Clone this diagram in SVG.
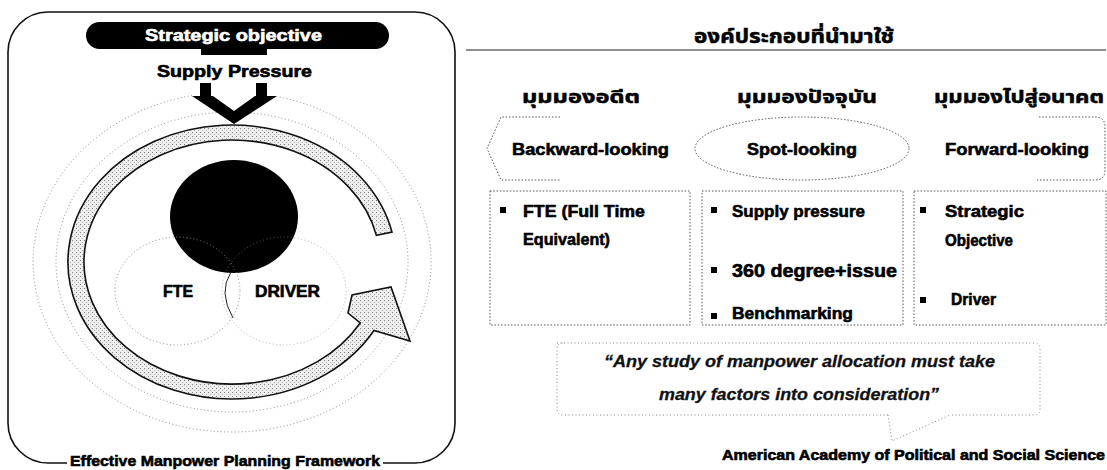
<svg xmlns="http://www.w3.org/2000/svg" width="1107" height="470" viewBox="0 0 1107 470">
<defs>
<pattern id="stip" width="4" height="4" patternUnits="userSpaceOnUse">
<rect width="4" height="4" fill="#eeeeee"/>
<rect x="0" y="0" width="1" height="1" fill="#7a7a7a"/>
<rect x="2" y="2" width="1" height="1" fill="#b0b0b0"/>
</pattern>
<style>
.t{font-family:"Liberation Sans",Arial,sans-serif;font-weight:bold;fill:#000;stroke:#000;stroke-width:0.6;stroke-linejoin:round}
.w{fill:#fff;stroke:#fff}
.th{font-family:"Noto Sans Thai","Loma","Garuda","DejaVu Sans","Noto Sans",sans-serif;font-weight:bold;fill:#000;stroke:#000;stroke-width:0.5}
.dot{fill:none;stroke:#555;stroke-width:1;stroke-dasharray:1.5 1.8}
.faint{fill:none;stroke:#888;stroke-width:1;stroke-dasharray:1 2.5}
.frame{fill:none;stroke:#111;stroke-width:1.6}
.q{font-family:"Liberation Sans",Arial,sans-serif;font-weight:bold;font-style:italic;fill:#111;stroke:#111;stroke-width:0.3}
</style>
</defs>
<rect width="1107" height="470" fill="#fff"/>

<g id="framework">
<path class="frame" d="M67,463 H48 A40,40 0 0 1 8,423 V52 A40,40 0 0 1 48,12 H415 A40,40 0 0 1 455,52 V423 A40,40 0 0 1 415,463 H383"/>
<text class="t" x="225" y="466" font-size="15" text-anchor="middle" textLength="310" lengthAdjust="spacingAndGlyphs">Effective Manpower Planning Framework</text>
</g>

<g id="rings">
<path class="faint" d="M192,95.5 A199,170 0 1 0 277,96.4"/>
<ellipse class="faint" cx="232" cy="262" rx="176" ry="150"/>
</g>

<g id="strategic-objective">
<rect x="86" y="22" width="303" height="27" rx="13.5" fill="#000"/>
<rect x="201" y="47" width="66" height="8" fill="#000"/>
<text class="t w" x="233.5" y="41" font-size="16" text-anchor="middle" textLength="177" lengthAdjust="spacingAndGlyphs">Strategic objective</text>
</g>

<g id="supply-pressure">
<text class="t" x="234.5" y="77" font-size="16" text-anchor="middle" textLength="155" lengthAdjust="spacingAndGlyphs">Supply Pressure</text>
<rect x="200" y="83" width="11" height="13" fill="#000"/>
<rect x="256" y="83" width="11" height="13" fill="#000"/>
<polygon points="192,96 213,96 234,111 255,96 277,96 234,124" fill="#000"/>
</g>

<g id="cycle-band">
<path d="M392,232.1 A164,137 0 1 0 374,330.5 L410,341 L391,287 L352,295 L348,313 L360.2,323 A148,122 0 1 1 376.4,235.4 Z" fill="url(#stip)" stroke="#111" stroke-width="1.6" stroke-linejoin="miter"/>
</g>

<g id="core">
<ellipse cx="234" cy="216.5" rx="64" ry="56.5" fill="#000"/>
</g>

<g id="fte">
<ellipse class="faint" cx="177.5" cy="291" rx="62.5" ry="54"/>
<text class="t" x="178" y="297" font-size="16" text-anchor="middle" textLength="30" lengthAdjust="spacingAndGlyphs">FTE</text>
</g>

<g id="driver">
<ellipse class="faint" cx="284" cy="291" rx="62" ry="54" opacity="0.6"/>
<path d="M231,272 Q218,292 233,318" fill="none" stroke="#222" stroke-width="1"/>
<text class="t" x="287.5" y="297" font-size="16" text-anchor="middle" textLength="65" lengthAdjust="spacingAndGlyphs">DRIVER</text>
</g>

<g id="components-title">
<text class="th" x="794" y="43" font-size="19" text-anchor="middle" textLength="200" lengthAdjust="spacingAndGlyphs">องค์ประกอบที่นำมาใช้</text>
<line x1="466" y1="50" x2="1106" y2="50" stroke="#222" stroke-width="1.2"/>
</g>

<g id="col-past">
<text class="th" x="581" y="103" font-size="18" text-anchor="middle" textLength="118" lengthAdjust="spacingAndGlyphs">มุมมองอดีต</text>
<path class="dot" d="M560,117 H501 L487,148.5 L501,180 H560"/>
<text class="t" x="590.5" y="155" font-size="17" text-anchor="middle" textLength="157" lengthAdjust="spacingAndGlyphs">Backward-looking</text>
<rect class="dot" x="490" y="191" width="200" height="134"/>
<rect x="500" y="207" width="6" height="6" fill="#000"/>
<text class="t" x="523" y="217" font-size="17" textLength="122" lengthAdjust="spacingAndGlyphs">FTE (Full Time</text>
<text class="t" x="523" y="245" font-size="17" textLength="87" lengthAdjust="spacingAndGlyphs">Equivalent)</text>
</g>

<g id="col-present">
<text class="th" x="807" y="103" font-size="18" text-anchor="middle" textLength="140" lengthAdjust="spacingAndGlyphs">มุมมองปัจจุบัน</text>
<ellipse class="dot" cx="802" cy="148.5" rx="107" ry="31.5"/>
<text class="t" x="802" y="155" font-size="17" text-anchor="middle" textLength="110" lengthAdjust="spacingAndGlyphs">Spot-looking</text>
<rect class="dot" x="702" y="191" width="201" height="134"/>
<rect x="711" y="207" width="6" height="6" fill="#000"/>
<text class="t" x="732" y="217" font-size="17" textLength="133" lengthAdjust="spacingAndGlyphs">Supply pressure</text>
<rect x="711" y="267" width="6" height="6" fill="#000"/>
<text class="t" x="732" y="277" font-size="18" textLength="165" lengthAdjust="spacingAndGlyphs">360 degree+issue</text>
<rect x="711" y="313" width="6" height="6" fill="#000"/>
<text class="t" x="732" y="319" font-size="17" textLength="121" lengthAdjust="spacingAndGlyphs">Benchmarking</text>
</g>

<g id="col-future">
<text class="th" x="1019" y="103" font-size="18" text-anchor="middle" textLength="170" lengthAdjust="spacingAndGlyphs">มุมมองไปสู่อนาคต</text>
<path class="dot" d="M1039,117 H1095 Q1105,117 1105,127 V170 Q1105,180 1095,180 H1037"/>
<text class="t" x="1017" y="155" font-size="17" text-anchor="middle" textLength="144" lengthAdjust="spacingAndGlyphs">Forward-looking</text>
<rect class="dot" x="914" y="191" width="192" height="134"/>
<rect x="920" y="207" width="6" height="6" fill="#000"/>
<text class="t" x="945" y="217" font-size="17" textLength="79" lengthAdjust="spacingAndGlyphs">Strategic</text>
<text class="t" x="945" y="246" font-size="17" textLength="68" lengthAdjust="spacingAndGlyphs">Objective</text>
<rect x="920" y="297" width="6" height="6" fill="#000"/>
<text class="t" x="951" y="305" font-size="17" textLength="45" lengthAdjust="spacingAndGlyphs">Driver</text>
</g>

<g id="quote">
<path class="faint" d="M557,343 H1034 Q1040,343 1040,349 V409 Q1040,415 1034,415 H950 M888,415 H563 Q557,415 557,409 V349 Q557,343 563,343"/>
<polyline class="faint" points="888,415 892,441 950,415"/>
<text class="q" x="799.5" y="367" font-size="16" text-anchor="middle" textLength="391" lengthAdjust="spacingAndGlyphs">“Any study of manpower allocation must take</text>
<text class="q" x="799" y="400" font-size="16" text-anchor="middle" textLength="280" lengthAdjust="spacingAndGlyphs">many factors into consideration”</text>
</g>

<g id="source">
<text class="t" x="913.5" y="460" font-size="14" text-anchor="middle" textLength="383" lengthAdjust="spacingAndGlyphs">American Academy of Political and Social Science</text>
</g>
</svg>
